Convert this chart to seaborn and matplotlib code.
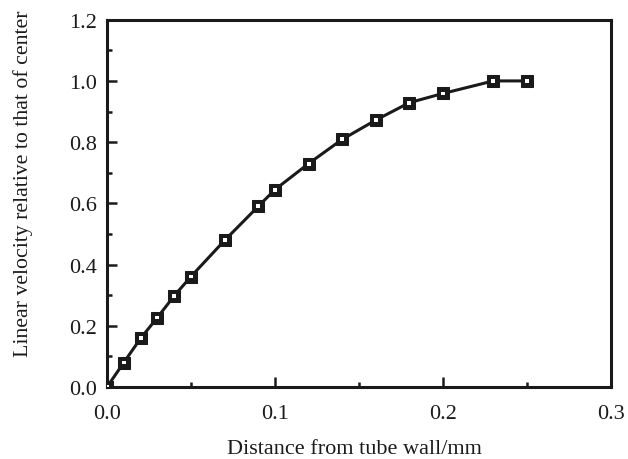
import matplotlib
matplotlib.use("Agg")
import matplotlib.pyplot as plt
import seaborn as sns
import pandas as pd
from matplotlib.ticker import MultipleLocator

distance = [0.0, 0.01, 0.02, 0.03, 0.04, 0.05, 0.07, 0.09, 0.10, 0.12, 0.14, 0.16, 0.18, 0.20, 0.23, 0.25]
velocity = [0.0, 0.08, 0.159, 0.227, 0.298, 0.361, 0.479, 0.59, 0.645, 0.73, 0.809, 0.872, 0.929, 0.959, 1.0, 1.0]
x_ticks = [0.0, 0.1, 0.2, 0.3]
y_ticks = [0.0, 0.2, 0.4, 0.6, 0.8, 1.0, 1.2]

df = pd.DataFrame({"x": distance, "y": velocity})

sns.set_theme(style="ticks")
plt.rcParams["font.family"] = ["Liberation Serif", "DejaVu Serif"]

fig = plt.figure(figsize=(6.28, 4.60), dpi=100)
ax = fig.add_axes([0.1704, 0.1565, 0.8025, 0.7985])

sns.lineplot(data=df, x="x", y="y", ax=ax, color="#1a1a1a", linewidth=2.2,
             marker="s", markersize=8.6, markerfacecolor="#1a1a1a",
             markeredgecolor="#1a1a1a", zorder=3)
ax.scatter(distance, velocity, marker="s", s=8, facecolor="white",
           edgecolor="none", zorder=4)

ax.set_xlim(0.0, 0.3)
ax.set_ylim(0.0, 1.2)
ax.set_xticks(x_ticks)
ax.set_yticks(y_ticks)
ax.set_xticklabels([f"{v:.1f}" for v in x_ticks])
ax.set_yticklabels([f"{v:.1f}" for v in y_ticks])
ax.xaxis.set_minor_locator(MultipleLocator(0.05))
ax.yaxis.set_minor_locator(MultipleLocator(0.1))
ax.tick_params(which="both", direction="in", color="#1a1a1a", width=1.8)
ax.tick_params(which="major", length=7, labelsize=16, labelcolor="#1a1a1a")
ax.tick_params(which="minor", length=3.5)
ax.tick_params(axis="x", which="major", pad=12)
ax.tick_params(axis="y", which="major", pad=7)

for s in ax.spines.values():
    s.set_linewidth(2.2)
    s.set_color("#1a1a1a")

ax.set_xlabel("Distance from tube wall/mm", fontsize=16, color="#1a1a1a", va="top")
ax.set_ylabel("Linear velocity relative to that of center", fontsize=15.7, color="#1a1a1a")
ax.xaxis.set_label_coords(0.49, -0.142)
ax.yaxis.set_label_coords(-0.147, 0.555)

fig.savefig("out.png", dpi=100)
